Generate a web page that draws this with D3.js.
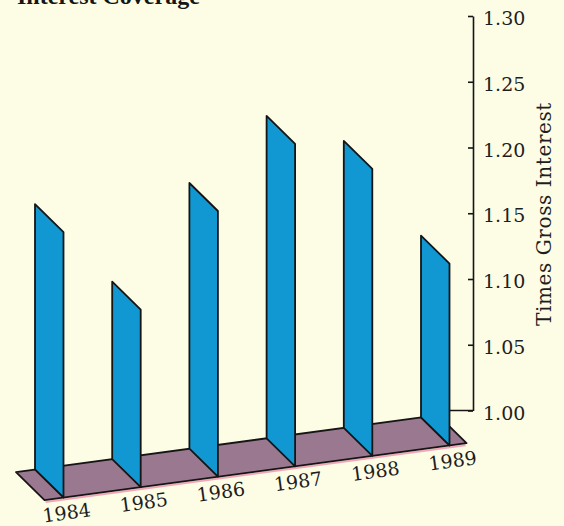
<!DOCTYPE html>
<html>
<head>
<meta charset="utf-8">
<script src="https://cdn.jsdelivr.net/npm/d3@7"></script>
<style>
  html, body { margin: 0; padding: 0; background: #fdfde6; }
  svg { display: block; }
</style>
</head>
<body>
<svg id="chart" width="564" height="526"></svg>
<script>
// Interest coverage by year (times gross interest)
const years = ["1984", "1985", "1986", "1987", "1988", "1989"];
const coverage = [1.157, 1.098, 1.173, 1.224, 1.205, 1.133];
const tickValues = [1.00, 1.05, 1.10, 1.15, 1.20, 1.25, 1.30];
const title = "Interest Coverage";
const axisTitle = "Times Gross Interest";

const W = 564, H = 526;
const svg = d3.select("#chart");

svg.append("rect").attr("width", W).attr("height", H).attr("fill", "#fdfde6");

// Vertical value scale on the back plane, axis at the right
const axisX = 473;
const y = d3.scaleLinear().domain([1.0, 1.3]).range([410.5, 16]);

// Back edge of each sheet along the floor
const x = d3.scalePoint().domain(years).range([35, 421]);

// Floor recedes toward the right; sheets extend forward by a depth vector
const floorSlope = -0.1347;
const backY = px => y(1.0) + floorSlope * (px - axisX);
const depth = { dx: 28.5, dy: 28 };
const floorLeft = 16, floorRight = 438;

const serif = "'DejaVu Serif', 'Liberation Serif', serif";
const ink = "#151515";

// Title (runs off the top edge)
svg.append("text")
  .attr("x", 17).attr("y", 3.5)
  .attr("font-family", "'Liberation Serif', 'Times New Roman', serif")
  .attr("font-weight", "bold")
  .attr("font-size", 24)
  .attr("fill", ink)
  .text(title);

// Value axis: ticks point inward, labels on the outside
const axis = d3.axisRight(y)
  .tickValues(tickValues)
  .tickFormat(d3.format(".2f"))
  .tickSizeInner(-5)
  .tickSizeOuter(0)
  .tickPadding(10);

const gAxis = svg.append("g")
  .attr("transform", `translate(${axisX},0)`)
  .call(axis);
gAxis.select(".domain").attr("stroke", ink).attr("stroke-width", 1.6);
gAxis.selectAll(".tick line").attr("stroke", ink).attr("stroke-width", 1.6);
gAxis.selectAll(".tick text")
  .attr("font-family", serif)
  .attr("font-size", 19)
  .attr("fill", "#1e1e1e")
  .attr("dy", "0.45em");

// Baseline of the back plane at the 1.00 level
svg.append("line")
  .attr("x1", axisX).attr("x2", 430)
  .attr("y1", y(1.0)).attr("y2", y(1.0))
  .attr("stroke", ink).attr("stroke-width", 1.6);

// Floor
const floorPts = [
  [floorLeft, backY(floorLeft)],
  [floorRight, backY(floorRight)],
  [floorRight + depth.dx, backY(floorRight) + depth.dy],
  [floorLeft + depth.dx, backY(floorLeft) + depth.dy]
];
// pink rim under the front edge
svg.append("line")
  .attr("x1", floorPts[3][0] + 1).attr("y1", floorPts[3][1] + 2)
  .attr("x2", floorPts[2][0] - 1).attr("y2", floorPts[2][1] + 2)
  .attr("stroke", "#f2a7b8").attr("stroke-width", 2);
svg.append("polygon")
  .attr("points", floorPts.map(p => p.join(",")).join(" "))
  .attr("fill", "#9a7890")
  .attr("stroke", ink)
  .attr("stroke-width", 1.8)
  .attr("stroke-linejoin", "round");

// Sheets standing on the floor, drawn back-left to front-right
const bars = years.map((yr, i) => ({ year: yr, value: coverage[i] }));
svg.append("g").selectAll("polygon")
  .data(bars)
  .join("polygon")
  .attr("points", d => {
    const xb = x(d.year);
    const yb = backY(xb);
    const yt = y(d.value);
    return [
      [xb, yb],
      [xb, yt],
      [xb + depth.dx, yt + depth.dy],
      [xb + depth.dx, yb + depth.dy]
    ].map(p => p.join(",")).join(" ");
  })
  .attr("fill", "#1198d2")
  .attr("stroke", ink)
  .attr("stroke-width", 1.8)
  .attr("stroke-linejoin", "round");

// Year labels following the floor's front edge
const angle = Math.atan(floorSlope) * 180 / Math.PI;
svg.append("g").selectAll("text")
  .data(bars)
  .join("text")
  .attr("transform", d => {
    const fx = x(d.year) + depth.dx;
    const fy = backY(x(d.year)) + depth.dy;
    return `translate(${fx + 3},${fy + 15}) rotate(${angle})`;
  })
  .attr("text-anchor", "middle")
  .attr("dy", "0.36em")
  .attr("font-family", serif)
  .attr("font-size", 19)
  .attr("fill", "#1e1e1e")
  .text(d => d.year);

// Axis title
svg.append("text")
  .attr("transform", `translate(551,214) rotate(-90)`)
  .attr("text-anchor", "middle")
  .attr("font-family", serif)
  .attr("font-size", 20)
  .attr("letter-spacing", 0.6)
  .attr("fill", "#1e1e1e")
  .text(axisTitle);
</script>
</body>
</html>
